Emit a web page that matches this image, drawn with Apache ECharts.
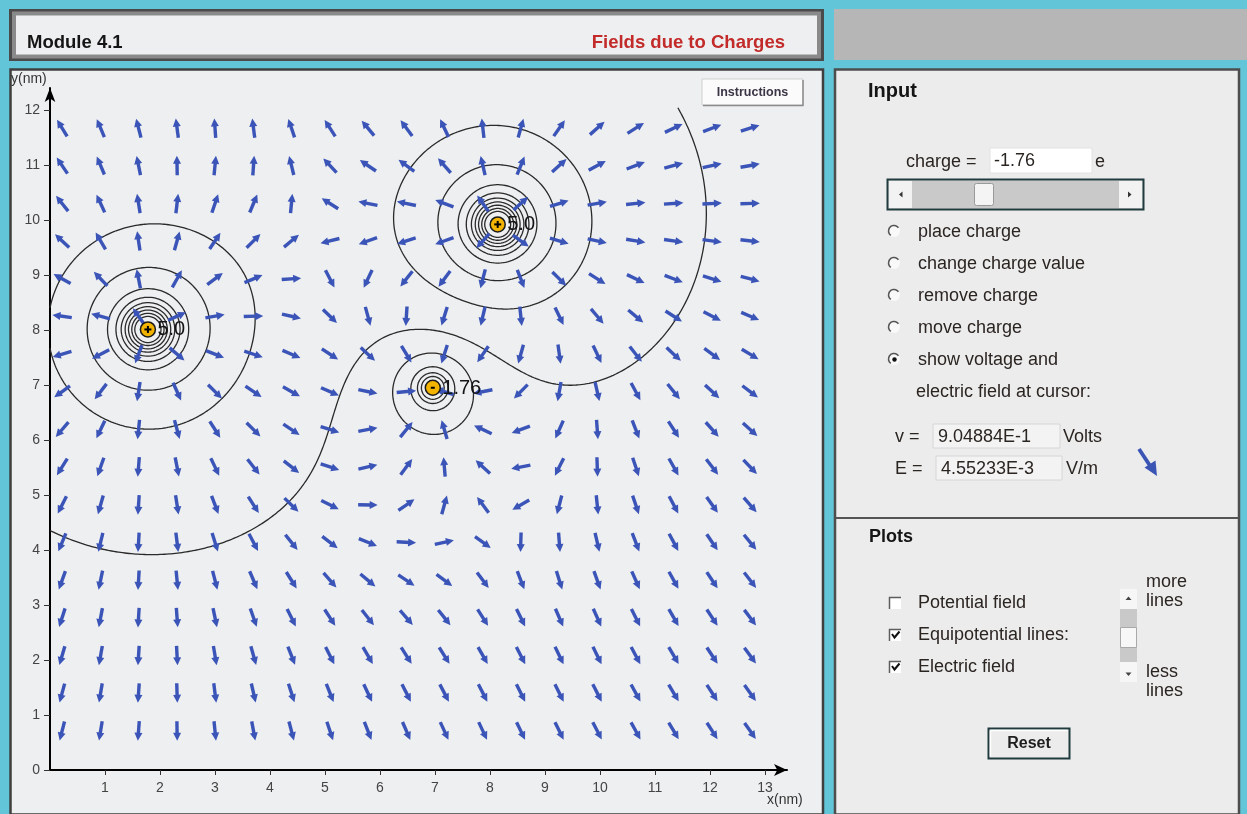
<!DOCTYPE html>
<html>
<head>
<meta charset="utf-8">
<title>Module 4.1 - Fields due to Charges</title>
<script src="https://cdn.jsdelivr.net/npm/echarts@6.0.0/dist/echarts.min.js"></script>
<style>
html,body{margin:0;padding:0;background:#63c6d8;overflow:hidden;}
#chart{width:1247px;height:814px;}
</style>
</head>
<body>
<div id="chart"></div>
<script>
// ---------------- data ----------------
// point charges (position in nm, charge in e)
const chargeX = [1.78, 8.14, 6.96];
const chargeY = [8.01, 9.92, 6.95];
const chargeQ = [5.0, 5.0, -1.76];
// positions of the electric-field arrow grid (nm)
const arrowCols = [0.22, 0.92, 1.61, 2.31, 3.00, 3.70, 4.39, 5.09, 5.78, 6.48, 7.17, 7.87, 8.56, 9.26, 9.95, 10.65, 11.34, 12.04, 12.73];
const arrowRows = [0.71, 1.40, 2.08, 2.77, 3.45, 4.14, 4.82, 5.51, 6.19, 6.88, 7.56, 8.25, 8.93, 9.62, 10.30, 10.99, 11.67];
// equipotential levels (relative potential, estimated from the circle radii)
const contourLevels = [-6.0, -3.8, -1.9, 0.08, 1.5, 3.1, 4.9, 7.2, 9.0, 10.7, 12.5, 14.6, 17.5, 21.5];
// axis tick labels
const xTickValues = [1, 2, 3, 4, 5, 6, 7, 8, 9, 10, 11, 12, 13];
const yTickValues = [0, 1, 2, 3, 4, 5, 6, 7, 8, 9, 10, 11, 12];
// cursor read-out
const readV = '9.04884E-1';
const readE = '4.55233E-3';
const chargeInput = '-1.76';

// ---------------- physics of the charges ----------------
function potentialAt(x, y) {
  let v = 0;
  for (let i = 0; i < chargeQ.length; i++) {
    const dx = x - chargeX[i], dy = y - chargeY[i];
    v += chargeQ[i] / Math.max(Math.sqrt(dx * dx + dy * dy), 1e-3);
  }
  return v;
}
function fieldAt(x, y) {
  let ex = 0, ey = 0;
  for (let i = 0; i < chargeQ.length; i++) {
    const dx = x - chargeX[i], dy = y - chargeY[i];
    const r = Math.max(Math.sqrt(dx * dx + dy * dy), 1e-3);
    const k = chargeQ[i] / (r * r * r);
    ex += k * dx; ey += k * dy;
  }
  return [ex, ey];
}

// arrows: [x, y, angle]
const arrowData = [];
arrowRows.forEach(y => arrowCols.forEach(x => {
  const e = fieldAt(x, y);
  arrowData.push([x, y, Math.atan2(e[1], e[0])]);
}));

// equipotential lines by marching squares on the potential
function buildContours() {
  const H = 0.04, X0 = 0, X1 = 13.2, Y0 = 0, Y1 = 12.05;
  const NX = Math.round((X1 - X0) / H), NY = Math.round((Y1 - Y0) / H);
  const W = NX + 1;
  const V = new Float64Array(W * (NY + 1));
  for (let j = 0; j <= NY; j++) for (let i = 0; i <= NX; i++) V[j * W + i] = potentialAt(X0 + i * H, Y0 + j * H);
  const out = [];
  contourLevels.forEach(L => {
    const segs = [];
    for (let j = 0; j < NY; j++) for (let i = 0; i < NX; i++) {
      const a = V[j * W + i], b = V[j * W + i + 1], c = V[(j + 1) * W + i + 1], d = V[(j + 1) * W + i];
      const sa = a >= L, sb = b >= L, sc = c >= L, sd = d >= L;
      if (sa === sb && sb === sc && sc === sd) continue;
      const x0 = X0 + i * H, y0 = Y0 + j * H;
      const e = [null, null, null, null];
      if (sa !== sb) { const t = (L - a) / (b - a); e[0] = ['h' + i + '_' + j, [x0 + t * H, y0]]; }
      if (sb !== sc) { const t = (L - b) / (c - b); e[1] = ['v' + (i + 1) + '_' + j, [x0 + H, y0 + t * H]]; }
      if (sd !== sc) { const t = (L - d) / (c - d); e[2] = ['h' + i + '_' + (j + 1), [x0 + t * H, y0 + H]]; }
      if (sa !== sd) { const t = (L - a) / (d - a); e[3] = ['v' + i + '_' + j, [x0, y0 + t * H]]; }
      const pr = e.filter(Boolean);
      if (pr.length === 2) segs.push([pr[0], pr[1]]);
      else if (pr.length === 4) {
        const cen = (a + b + c + d) / 4 >= L;
        if (cen === sa) { segs.push([e[0], e[1]]); segs.push([e[2], e[3]]); }
        else { segs.push([e[0], e[3]]); segs.push([e[1], e[2]]); }
      }
    }
    const adj = new Map();
    segs.forEach((s, idx) => { for (const end of s) { if (!adj.has(end[0])) adj.set(end[0], []); adj.get(end[0]).push(idx); } });
    const used = new Uint8Array(segs.length);
    function walk(key, arr) {
      while (true) {
        const lst = adj.get(key); let n = -1;
        for (const k of lst) if (!used[k]) { n = k; break; }
        if (n < 0) return;
        used[n] = 1;
        const s = segs[n];
        if (s[0][0] === key) { arr.push(s[1][1]); key = s[1][0]; }
        else { arr.push(s[0][1]); key = s[0][0]; }
      }
    }
    for (let s0 = 0; s0 < segs.length; s0++) {
      if (used[s0]) continue;
      used[s0] = 1;
      const fwd = [segs[s0][0][1], segs[s0][1][1]];
      walk(segs[s0][1][0], fwd);
      const back = [];
      walk(segs[s0][0][0], back);
      out.push(back.reverse().concat(fwd));
    }
  });
  return out;
}
const contourLines = buildContours();

// ---------------- interface panels (graphic) ----------------
const FONT = '"Liberation Sans", Arial, Helvetica, sans-serif';
const f = (size, bold) => (bold ? 'bold ' : '') + size + 'px ' + FONT;
const TXT = '#2b2522';
const G = [];
function rect(x, y, w, h, fill, stroke, lw, z, r) {
  G.push({ type: 'rect', silent: true, z: z == null ? -5 : z, shape: { x: x, y: y, width: w, height: h, r: r || 0 },
    style: { fill: fill, stroke: stroke || null, lineWidth: lw || 0 } });
}
function text(x, y, s, font, fill, align, z) {
  G.push({ type: 'text', silent: true, z: z == null ? 5 : z, x: x, y: y,
    style: { text: s, font: font, fill: fill || TXT, textAlign: align || 'left', textVerticalAlign: 'middle' } });
}
function line(x1, y1, x2, y2, stroke, lw, z) {
  G.push({ type: 'line', silent: true, z: z == null ? -4 : z, shape: { x1: x1, y1: y1, x2: x2, y2: y2 }, style: { stroke: stroke, lineWidth: lw } });
}
function poly(points, fill, z) {
  G.push({ type: 'polygon', silent: true, z: z == null ? 5 : z, shape: { points: points }, style: { fill: fill } });
}

// title bar
rect(9, 9, 815, 52, '#4a4a4a');
rect(12, 11.5, 809, 47, '#8a8a8a');
rect(16, 15.5, 801, 39, '#eeeff0');
text(27, 43, 'Module 4.1', f(18.5, true), '#151515');
text(785, 43, 'Fields due to Charges', f(18.5, true), '#c22b2a', 'right');
// top right gray box
rect(834, 9, 413, 51, '#b6b6b6');

// plot panel
rect(10.5, 69.5, 812.5, 745, '#eeeff0', '#3f3f3f', 2.5);
// instructions button
rect(702, 79, 101, 26, '#fbfbfb', '#cfcfcf', 1, -3);
line(803, 80, 803, 105.5, '#8a8a8a', 1.5, -2);
line(703, 105.5, 803.5, 105.5, '#8a8a8a', 1.5, -2);
text(752.5, 92.5, 'Instructions', f(12.5, true), '#3b3646', 'center');
// axis names
text(11, 79, 'y(nm)', f(14, false), '#333');
text(767, 800, 'x(nm)', f(14, false), '#333');

// right panel
rect(835, 69.5, 404, 745, '#ececec', '#4d4d4d', 2.5);
line(836, 518, 1238, 518, '#555555', 2);
text(868, 91, 'Input', f(20, true), '#151515');
text(906, 162, 'charge =', f(18), TXT);
rect(990, 148, 102, 25, '#ffffff', '#e2e2e2', 1, -3);
text(994, 161, chargeInput, f(18), TXT);
text(1095, 162, 'e', f(18), TXT);
// horizontal scrollbar
rect(887.5, 179.5, 256, 30, '#dcdcdc', '#1f3b3d', 2, -3);
rect(889, 181, 23, 27, '#f2f2f2', null, 0, -2);
rect(1119, 181, 23, 27, '#f2f2f2', null, 0, -2);
rect(912, 181, 207, 27, '#c9c9c9', null, 0, -2);
rect(974.5, 183.5, 19, 22, '#f4f4f4', '#9a9a9a', 1, -1, 2);
poly([[899, 194.5], [902.5, 191.5], [902.5, 197.5]], '#333');
poly([[1131.5, 194.5], [1128, 191.5], [1128, 197.5]], '#333');
// radio buttons
const radioLabels = ['place charge', 'change charge value', 'remove charge', 'move charge', 'show voltage and'];
radioLabels.forEach((s, i) => {
  const y = 232 + i * 32;
  G.push({ type: 'circle', silent: true, z: 4, shape: { cx: 894, cy: y - 1, r: 6 }, style: { fill: '#f9f9f9' } });
  G.push({ type: 'arc', silent: true, z: 4, shape: { cx: 894, cy: y - 1, r: 5.5, startAngle: Math.PI * 0.7, endAngle: Math.PI * 1.8, clockwise: true }, style: { stroke: '#555', lineWidth: 1.6, fill: null } });
  if (i === 4) G.push({ type: 'circle', silent: true, z: 5, shape: { cx: 894.5, cy: y - 0.5, r: 2.2 }, style: { fill: '#111' } });
  text(918, y, s, f(18), TXT);
});
text(916, 392, 'electric field at cursor:', f(18), TXT);
text(895, 437, 'v =', f(18), TXT);
rect(933, 424, 127, 24, '#f3f3f3', '#d6d6d6', 1, -3);
text(938, 437, readV, f(18), TXT);
text(1063, 437, 'Volts', f(18), TXT);
text(895, 469, 'E =', f(18), TXT);
rect(936, 456, 126, 24, '#f3f3f3', '#d6d6d6', 1, -3);
text(941, 469, readE, f(18), TXT);
text(1066, 469, 'V/m', f(18), TXT);
// read-out arrow
line(1139, 449, 1150.5, 466.5, '#3b55b4', 3.8, 5);
poly([[1157, 476], [1144.5, 467.5], [1155.5, 460.5]], '#3b55b4');

// plots section
text(869, 537, 'Plots', f(18, true), '#151515');
const checkLabels = ['Potential field', 'Equipotential lines:', 'Electric field'];
const checkState = [false, true, true];
checkLabels.forEach((s, i) => {
  const y = 603 + i * 32;
  rect(889, y - 6, 12, 12, '#ffffff', null, 0, 3);
  G.push({ type: 'polyline', silent: true, z: 4, shape: { points: [[889.5, y + 6], [889.5, y - 5.5], [901, y - 5.5]] }, style: { stroke: '#5d5d5d', lineWidth: 1.5, fill: null } });
  if (checkState[i]) G.push({ type: 'polyline', silent: true, z: 5, shape: { points: [[892, y - 1], [894.5, y + 2.5], [899.5, y - 3.5]] }, style: { stroke: '#111', lineWidth: 2, fill: null } });
  text(918, y, s, f(18), TXT);
});
// vertical scrollbar
rect(1120, 589, 17, 20, '#f6f6f6', null, 0, -2);
rect(1120, 609, 17, 53, '#c9c9c9', null, 0, -2);
rect(1120.5, 627.5, 16, 20, '#f7f7f7', '#a9a9a9', 1, -1);
rect(1120, 662, 17, 20, '#f6f6f6', null, 0, -2);
poly([[1128.5, 596.5], [1125.5, 600], [1131.5, 600]], '#444');
poly([[1128.5, 676], [1125.5, 672.5], [1131.5, 672.5]], '#444');
text(1146, 582, 'more', f(18), TXT);
text(1146, 601, 'lines', f(18), TXT);
text(1146, 672, 'less', f(18), TXT);
text(1146, 691, 'lines', f(18), TXT);
// reset button
rect(988.5, 728.5, 81, 30, '#ececec', '#1f3b3d', 2, -3);
line(990.5, 730.5, 1067.5, 730.5, '#ffffff', 1.5, -2);
line(990.5, 730.5, 990.5, 756.5, '#ffffff', 1.5, -2);
text(1029, 744, 'Reset', f(16, true), '#1e1e1e', 'center');

// ---------------- chart ----------------
const ARROW = '#3a54b8';
function renderArrow(params, api) {
  const p = api.coord([api.value(0), api.value(1)]);
  const ang = api.value(2);
  const L = 19.5, hl = 8, hw = 4;
  const ux = Math.cos(ang), uy = -Math.sin(ang);
  const px = -uy, py = ux;
  const tail = [p[0] - ux * L / 2, p[1] - uy * L / 2];
  const tip = [p[0] + ux * L / 2, p[1] + uy * L / 2];
  const base = [tip[0] - ux * hl, tip[1] - uy * hl];
  return {
    type: 'group', children: [
      { type: 'line', shape: { x1: tail[0], y1: tail[1], x2: base[0] + ux * 1.5, y2: base[1] + uy * 1.5 }, style: { stroke: ARROW, lineWidth: 3.4 } },
      { type: 'polygon', shape: { points: [tip, [base[0] + px * hw, base[1] + py * hw], [base[0] - px * hw, base[1] - py * hw]] }, style: { fill: ARROW } }
    ]
  };
}
function renderCharge(params, api) {
  const p = api.coord([api.value(0), api.value(1)]);
  const q = api.value(2);
  const kids = [
    { type: 'circle', shape: { cx: p[0], cy: p[1], r: 7.5 }, style: { fill: '#f3b400', stroke: '#1a1a1a', lineWidth: 1.5 } },
    { type: 'line', shape: { x1: p[0] - 3.5, y1: p[1], x2: p[0] + 3.5, y2: p[1] }, style: { stroke: '#000', lineWidth: 2 } }
  ];
  if (q > 0) kids.push({ type: 'line', shape: { x1: p[0], y1: p[1] - 3.5, x2: p[0], y2: p[1] + 3.5 }, style: { stroke: '#000', lineWidth: 2 } });
  else kids[1].shape = { x1: p[0] - 2, y1: p[1], x2: p[0] + 2, y2: p[1] };
  const lab = Math.abs(q).toFixed(2).replace(/0$/, '');
  kids.push({ type: 'text', x: p[0] + 9.5, y: p[1] + 0.5, style: { text: lab, font: f(20), fill: '#141414', textVerticalAlign: 'middle' } });
  return { type: 'group', children: kids };
}

const chart = echarts.init(document.getElementById('chart'), null, { renderer: 'canvas' });
chart.setOption({
  animation: false,
  backgroundColor: '#63c6d8',
  graphic: { elements: G },
  grid: { left: 50, top: 88, width: 737, height: 682 },
  xAxis: {
    type: 'value', min: 0, max: 13.4, interval: 1,
    splitLine: { show: false },
    axisLine: { show: true, onZero: false, lineStyle: { color: '#000', width: 2 }, symbol: ['none', 'arrow'], symbolSize: [9, 13] },
    axisTick: { show: true, length: 5, customValues: xTickValues, lineStyle: { color: '#333', width: 1 } },
    axisLabel: { customValues: xTickValues, margin: 11, fontSize: 14, color: '#444', fontFamily: FONT }
  },
  yAxis: {
    type: 'value', min: 0, max: 12.4, interval: 1,
    splitLine: { show: false },
    axisLine: { show: true, onZero: false, lineStyle: { color: '#000', width: 2 }, symbol: ['none', 'arrow'], symbolSize: [8, 14] },
    axisTick: { show: true, length: 6, customValues: yTickValues, lineStyle: { color: '#333', width: 1 } },
    axisLabel: { customValues: yTickValues, margin: 10, fontSize: 14, color: '#444', fontFamily: FONT }
  },
  series: [
    {
      type: 'lines', coordinateSystem: 'cartesian2d', polyline: true, silent: true, z: 1,
      lineStyle: { color: '#2a2a2a', width: 1.3, opacity: 1 },
      data: contourLines.map(c => ({ coords: c }))
    },
    {
      type: 'custom', coordinateSystem: 'cartesian2d', silent: true, z: 3, clip: false,
      renderItem: renderArrow, encode: { x: 0, y: 1 },
      data: arrowData
    },
    {
      type: 'custom', coordinateSystem: 'cartesian2d', silent: true, z: 5, clip: false,
      renderItem: renderCharge, encode: { x: 0, y: 1 },
      data: chargeX.map((x, i) => [x, chargeY[i], chargeQ[i]])
    }
  ]
});
</script>
</body>
</html>
